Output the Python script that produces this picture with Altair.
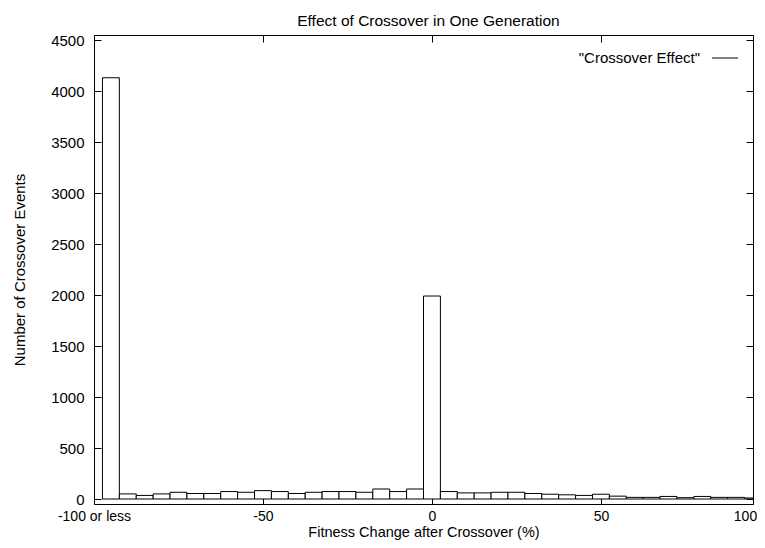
import altair as alt
import pandas as pd

# ---- data ----
bin_centers = [-95, -90, -85, -80, -75, -70, -65, -60, -55, -50,
               -45, -40, -35, -30, -25, -20, -15, -10, -5, 0,
               5, 10, 15, 20, 25, 30, 35, 40, 45, 50,
               55, 60, 65, 70, 75, 80, 85, 90, 95]
counts = [4130, 50, 35, 50, 66, 54, 54, 73, 66, 82,
          73, 54, 66, 73, 73, 66, 98, 73, 98, 1990,
          73, 60, 60, 66, 66, 54, 47, 41, 35, 47,
          28, 16, 16, 25, 13, 25, 16, 16, 10]
bin_width = 5
x_tick_values = [-100, -50, 0, 50, 95]
x_tick_labels = ["-100 or less", "-50", "0", "50", "100"]
y_tick_values = [0, 500, 1000, 1500, 2000, 2500, 3000, 3500, 4000, 4500]
series_name = '"Crossover Effect"'

df = pd.DataFrame({
    "start": [c - bin_width / 2 for c in bin_centers],
    "end": [c + bin_width / 2 for c in bin_centers],
    "count": counts,
})
legend_df = pd.DataFrame({"series": [series_name]})

W, H = 659, 469
FONT = "Liberation Sans"
FS = 15

label_expr = " : ".join(
    f"datum.value == {v} ? '{t}'" for v, t in zip(x_tick_values, x_tick_labels)
) + " : ''"

xscale = alt.Scale(domain=[-100, 95], nice=False, zero=False)
yscale = alt.Scale(domain=[0, 4500], nice=False, zero=True)

bars = alt.Chart(df).mark_bar(fill="white", stroke="black", strokeWidth=1, clip=True).encode(
    x=alt.X("start:Q", scale=xscale, axis=alt.Axis(
        values=x_tick_values, labelExpr=label_expr, ticks=False, tickSize=0,
        domain=False, grid=False, labelFlush=False, labelOverlap=False,
        labelOffset={"condition": {"test": "datum.value == 95", "value": -8}, "value": 0},
        title="Fitness Change after Crossover (%)", labelPadding=5,
        titleY=32.8, titleBaseline="alphabetic",
        labelFontSize=14, titleFontSize=14.5, titleFontWeight="normal",
        labelColor="black", titleColor="black", labelFont=FONT, titleFont=FONT)),
    x2="end:Q",
    y=alt.Y("count:Q", scale=yscale, axis=alt.Axis(
        values=y_tick_values, format="d", ticks=False, tickSize=0,
        domain=False, grid=False, labelOverlap=False,
        title="Number of Crossover Events", labelPadding=10, titlePadding=23,
        labelFontSize=FS, titleFontSize=FS, titleFontWeight="normal",
        labelColor="black", titleColor="black", labelFont=FONT, titleFont=FONT)),
    y2=alt.Y2Datum(0),
)


def tick_axis(orient, offset, values):
    return alt.Axis(orient=orient, offset=offset, values=values, labels=False,
                    ticks=True, tickSize=7, tickColor="black", tickWidth=1,
                    domain=True, domainColor="black", domainWidth=1,
                    grid=False, title=None)


ghost = alt.Chart(df).mark_bar(opacity=0)
ticks_a = ghost.encode(
    x=alt.X("start:Q", scale=xscale, axis=tick_axis("top", -H, x_tick_values)),
    x2="end:Q",
    y=alt.Y("count:Q", scale=yscale, axis=tick_axis("right", -W, y_tick_values)),
)
ticks_b = ghost.encode(
    x=alt.X("start:Q", scale=xscale, axis=tick_axis("bottom", -H, x_tick_values)),
    x2="end:Q",
    y=alt.Y("count:Q", scale=yscale, axis=tick_axis("left", -W, y_tick_values)),
)

# key (legend) drawn in the top-right corner like gnuplot
key_text = alt.Chart(legend_df).mark_text(
    align="right", baseline="middle", font=FONT, fontSize=FS, color="black"
).encode(text="series:N", x=alt.value(606), y=alt.value(23))
key_line = alt.Chart(legend_df).mark_rule(color="black", strokeWidth=1).encode(
    x=alt.value(618), x2=alt.value(644), y=alt.value(23))

chart = alt.layer(bars, ticks_a, ticks_b, key_text, key_line).resolve_axis(
    x="independent", y="independent"
).properties(
    width=W, height=H,
    title=alt.Title("Effect of Crossover in One Generation", fontSize=15.5,
                    fontWeight="normal", anchor="middle", frame="group",
                    offset=10, dx=5, dy=18, baseline="alphabetic", color="black", font=FONT),
    padding={"left": 86, "top": 27, "right": 4, "bottom": 36},
    autosize=alt.AutoSizeParams(type="none"),
).configure_view(stroke="black", strokeWidth=1).configure(font=FONT)

chart.save("out.html", embed_options={"renderer": "svg", "actions": False})
